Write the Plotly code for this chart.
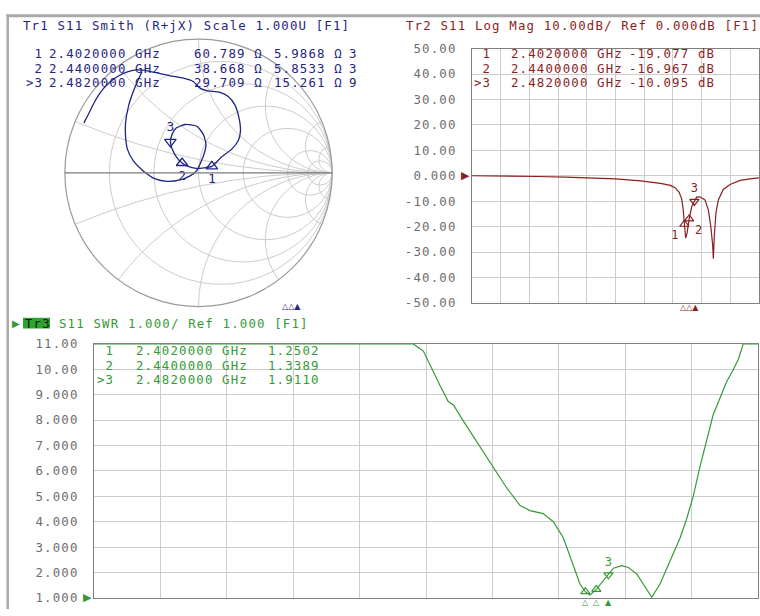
import numpy as np
import plotly.graph_objects as go

W, H = 760, 616

# ---------------- data ----------------
freq_start_ghz = 0.7
freq_stop_ghz = 3.0

logmag_freq_ghz = [0.70, 0.90, 1.10, 1.23, 1.45, 1.65, 1.85, 2.05, 2.21, 2.29,
                   2.33, 2.36, 2.38, 2.392, 2.402, 2.412, 2.424, 2.44, 2.462, 2.482,
                   2.50, 2.527, 2.567, 2.594, 2.613, 2.629, 2.634, 2.642, 2.655, 2.674,
                   2.714, 2.768, 2.848, 2.928, 3.00]
logmag_db = [0.0, -0.05, -0.15, -0.3, -0.5, -0.8, -1.2, -2.0, -3.0, -3.8,
             -4.8, -6.5, -9.0, -13.0, -19.077, -24.5, -22.5, -16.967, -12.0, -10.095,
             -8.4, -8.3, -9.5, -13.4, -19.7, -27.4, -32.6, -23.6, -14.6, -9.5,
             -5.4, -3.4, -1.8, -1.2, -0.8]

swr_freq_ghz = [0.70, 1.806, 1.841, 1.870, 1.898, 1.927, 1.945, 1.979, 2.037, 2.083,
                2.129, 2.176, 2.210, 2.256, 2.291, 2.326, 2.360, 2.383, 2.402, 2.418,
                2.440, 2.482, 2.499, 2.528, 2.551, 2.580, 2.609, 2.632, 2.661, 2.695,
                2.730, 2.753, 2.776, 2.799, 2.822, 2.845, 2.868, 2.891, 2.915, 2.932,
                2.949, 3.00]
swr_val = [11.0, 11.0, 10.72, 10.0, 9.37, 8.73, 8.6, 7.97, 6.94, 6.17,
           5.34, 4.64, 4.44, 4.32, 4.0, 3.36, 2.33, 1.56, 1.2502, 1.12,
           1.3389, 1.911, 2.17, 2.27, 2.2, 1.95, 1.44, 1.03, 1.56, 2.46,
           3.36, 4.12, 5.02, 6.17, 7.2, 8.22, 8.86, 9.5, 10.0, 10.4,
           11.0, 11.0]

smith_gamma_re = [-0.857, -0.819, -0.782, -0.745, -0.708, -0.658, -0.599, -0.532, -0.457, -0.375,
                  -0.286, -0.212, -0.113, -0.039, 0.011, 0.061, 0.160, 0.222, 0.271, 0.303,
                  0.314, 0.296, 0.247, 0.172, 0.100, 0.041, -0.019, -0.078, -0.123, -0.162,
                  -0.197, -0.210, -0.197, -0.167, -0.100, -0.013, 0.036, 0.056, 0.041, 0.011,
                  -0.011, -0.063, -0.138, -0.236, -0.323, -0.413, -0.487, -0.532, -0.546, -0.546,
                  -0.524, -0.487, -0.450, -0.422]
smith_gamma_im = [0.374, 0.448, 0.523, 0.585, 0.634, 0.684, 0.725, 0.755, 0.770, 0.762,
                  0.743, 0.726, 0.709, 0.684, 0.634, 0.615, 0.602, 0.572, 0.511, 0.411,
                  0.312, 0.238, 0.176, 0.119, 0.049, 0.037, 0.033, 0.048, 0.074, 0.114,
                  0.178, 0.232, 0.290, 0.335, 0.362, 0.349, 0.288, 0.213, 0.139, 0.065,
                  0.019, -0.022, -0.052, -0.063, -0.045, 0.015, 0.089, 0.178, 0.275, 0.372,
                  0.498, 0.610, 0.699, 0.758]

marker_ids = ["1", "2", ">3"]
marker_freq_ghz = [2.402, 2.440, 2.482]
marker_freq_text = ["2.4020000 GHz", "2.4400000 GHz", "2.4820000 GHz"]
marker_logmag_db = [-19.077, -16.967, -10.095]
marker_swr = [1.2502, 1.3389, 1.9110]
marker_r_ohm = [60.789, 38.668, 29.709]
marker_x_ohm = [5.9868, 5.8533, 15.261]
marker_clipped_col = ["3", "3", "9"]
z0_ohm = 50.0

logmag_tickvals = [50, 40, 30, 20, 10, 0, -10, -20, -30, -40, -50]
logmag_ticktext = ["50.00", "40.00", "30.00", "20.00", "10.00", "0.000",
                   "-10.00", "-20.00", "-30.00", "-40.00", "-50.00"]
swr_tickvals = [11, 10, 9, 8, 7, 6, 5, 4, 3, 2, 1]
swr_ticktext = ["11.00", "10.00", "9.000", "8.000", "7.000", "6.000",
                "5.000", "4.000", "3.000", "2.000", "1.000"]

smith_r_grid = [0.2, 0.5, 1, 2, 5, 10]
smith_x_grid = [-10, -5, -2, -1, -0.5, -0.2, 0.2, 0.5, 1, 2, 5, 10]

# ---------------- styling ----------------
MONO = "DejaVu Sans Mono"
SYM = "DejaVu Sans"
FS = 12.4          # glyph size of the instrument font
LS = 1.15          # extra letter spacing -> ~8.6 px per character
LINE = 14.5        # row pitch of the marker tables
NAVY = "#1f2583"
RED = "#8b1e1e"
GREEN = "#359a35"
TICKGRAY = "#6e6e6e"
GRID = "#cccccc"
BORDER = "#808080"
NB = "\u00a0"


def px(x):
    return x / W


def py(y):
    return 1 - y / H


def sp(s):
    return f"<span style='font-size:{FS}px;letter-spacing:{LS}px'>{s.replace(' ', NB)}</span>"


fig = go.Figure()

# Smith chart trace
g = np.array(smith_gamma_re) + 1j * np.array(smith_gamma_im)
z = (1 + g) / (1 - g)
fig.add_trace(go.Scattersmith(real=z.real, imag=z.imag, mode="lines",
                              line=dict(color=NAVY, width=1.3, shape="spline", smoothing=0.6),
                              subplot="smith", hoverinfo="skip"))
zr = [r / z0_ohm for r in marker_r_ohm]
zi = [x / z0_ohm for x in marker_x_ohm]
fig.add_trace(go.Scattersmith(real=zr[:2], imag=zi[:2], mode="markers+text",
                              text=["1", "2"], textposition="bottom center",
                              textfont=dict(family=MONO, size=13, color=NAVY),
                              marker=dict(symbol="triangle-up-open", size=10, color=NAVY,
                                          line=dict(width=1.3, color=NAVY)),
                              subplot="smith", hoverinfo="skip"))
fig.add_trace(go.Scattersmith(real=zr[2:], imag=zi[2:], mode="markers+text",
                              text=["3"], textposition="top center",
                              textfont=dict(family=MONO, size=13, color=NAVY),
                              marker=dict(symbol="triangle-down-open", size=10, color=NAVY,
                                          line=dict(width=1.3, color=NAVY)),
                              subplot="smith", hoverinfo="skip"))

# Log mag trace
fig.add_trace(go.Scatter(x=logmag_freq_ghz, y=logmag_db, mode="lines",
                         line=dict(color=RED, width=1.2), xaxis="x", yaxis="y",
                         hoverinfo="skip"))
fig.add_trace(go.Scatter(x=marker_freq_ghz[:2], y=marker_logmag_db[:2], mode="markers+text",
                         text=["1", "2"], textposition=["bottom left", "bottom right"],
                         textfont=dict(family=MONO, size=12, color=RED),
                         marker=dict(symbol="triangle-up-open", size=8, color=RED,
                                     line=dict(width=1.2, color=RED)),
                         xaxis="x", yaxis="y", hoverinfo="skip"))
fig.add_trace(go.Scatter(x=marker_freq_ghz[2:], y=marker_logmag_db[2:], mode="markers+text",
                         text=["3"], textposition="top center",
                         textfont=dict(family=MONO, size=12, color=RED),
                         marker=dict(symbol="triangle-down-open", size=8, color=RED,
                                     line=dict(width=1.2, color=RED)),
                         xaxis="x", yaxis="y", hoverinfo="skip"))

# SWR trace
fig.add_trace(go.Scatter(x=swr_freq_ghz, y=swr_val, mode="lines",
                         line=dict(color=GREEN, width=1.2), xaxis="x2", yaxis="y2",
                         hoverinfo="skip"))
fig.add_trace(go.Scatter(x=marker_freq_ghz[:2], y=marker_swr[:2], mode="markers",
                         marker=dict(symbol="triangle-up-open", size=8, color=GREEN,
                                     line=dict(width=1.2, color=GREEN)),
                         xaxis="x2", yaxis="y2", hoverinfo="skip", cliponaxis=False))
fig.add_trace(go.Scatter(x=marker_freq_ghz[2:], y=marker_swr[2:], mode="markers+text",
                         text=["3"], textposition="top center",
                         textfont=dict(family=MONO, size=12, color=GREEN),
                         marker=dict(symbol="triangle-down-open", size=8, color=GREEN,
                                     line=dict(width=1.2, color=GREEN)),
                         xaxis="x2", yaxis="y2", hoverinfo="skip"))

xcommon = dict(range=[freq_start_ghz, freq_stop_ghz], tick0=freq_start_ghz,
               dtick=(freq_stop_ghz - freq_start_ghz) / 10, showticklabels=False, ticks="",
               showgrid=True, gridcolor=GRID, gridwidth=1, zeroline=False,
               showline=True, mirror=True, linecolor=BORDER, linewidth=1)

fig.update_layout(
    width=W, height=H, margin=dict(l=0, r=0, t=0, b=0), autosize=False,
    paper_bgcolor="white", plot_bgcolor="white", showlegend=False,
    smith=dict(
        domain=dict(x=[px(61.5), px(335.5)], y=[py(306), py(32)]),
        bgcolor="white",
        realaxis=dict(tickvals=smith_r_grid, showticklabels=False, ticks="",
                      showgrid=True, gridcolor=GRID, gridwidth=1,
                      showline=True, linecolor="#7a7a7a", linewidth=1.2),
        imaginaryaxis=dict(tickvals=smith_x_grid, showticklabels=False, ticks="",
                           showgrid=True, gridcolor=GRID, gridwidth=1,
                           showline=True, linecolor="#9a9a9a", linewidth=1.2),
    ),
    xaxis=dict(domain=[px(472), px(759)], anchor="y", **xcommon),
    yaxis=dict(domain=[py(302.2), py(41.7)], anchor="x", range=[-50, 50],
               tickvals=logmag_tickvals, ticktext=[sp(t) for t in logmag_ticktext], ticks="",
               tickfont=dict(family=MONO, size=FS, color=TICKGRAY), ticklabelstandoff=12,
               showgrid=True, gridcolor=GRID, zeroline=False,
               showline=True, mirror=True, linecolor=BORDER, linewidth=1),
    xaxis2=dict(domain=[px(94), px(758)], anchor="y2", **xcommon),
    yaxis2=dict(domain=[py(604.7), py(344.3)], anchor="x2", range=[1, 11],
                tickvals=swr_tickvals, ticktext=[sp(t) for t in swr_ticktext], ticks="",
                tickfont=dict(family=MONO, size=FS, color=TICKGRAY), ticklabelstandoff=12,
                showgrid=True, gridcolor=GRID, zeroline=False,
                showline=True, mirror=True, linecolor=BORDER, linewidth=1),
)

ann = []


def txt(x, y, s, color, anchor="left"):
    return dict(x=px(x), y=py(y), xref="paper", yref="paper", text=sp(s), showarrow=False,
                xanchor=anchor, yanchor="middle", borderpad=0,
                font=dict(family=MONO, size=FS, color=color))


def sym(x, y, s, color, size, anchor="center"):
    return dict(x=px(x), y=py(y), xref="paper", yref="paper", text=s, showarrow=False,
                xanchor=anchor, yanchor="middle", borderpad=0,
                font=dict(family=SYM, size=size, color=color))


def column(x, y_mid, cells, color, anchor="left"):
    # one text block per table column, rows LINE px apart
    body = "<br>".join(sp(c) for c in cells)
    return dict(x=px(x), y=py(y_mid), xref="paper", yref="paper", text=body, showarrow=False,
                xanchor=anchor, yanchor="middle", align=anchor, borderpad=0,
                font=dict(family=MONO, size=LINE / 1.3, color=color))


# headers
ann.append(txt(22, 18, "Tr1 S11 Smith (R+jX) Scale 1.000U [F1]", NAVY))
ann.append(txt(405, 18, "Tr2 S11 Log Mag 10.00dB/ Ref 0.000dB [F1]", RED))
ann.append(sym(21, 323, "▶", GREEN, 10, anchor="right"))
ann.append(txt(23.5, 323, "Tr3", "#0c1a0c"))
ann.append(txt(58, 323, "S11 SWR 1.000/ Ref 1.000 [F1]", GREEN))

# marker tables (Smith, log mag, SWR)
ann.append(column(44, 61.5, marker_ids, NAVY, anchor="right"))
ann.append(column(48, 61.5, marker_freq_text, NAVY))
ann.append(column(193, 61.5, [f"{v:.3f} Ω" for v in marker_r_ohm], NAVY))
ann.append(column(273, 61.5, [f"{v:.5g} Ω" for v in marker_x_ohm], NAVY))
ann.append(column(348, 61.5, marker_clipped_col, NAVY))

ann.append(column(492, 61.5, marker_ids, RED, anchor="right"))
ann.append(column(510, 61.5, marker_freq_text, RED))
ann.append(column(628, 61.5, [f"{v:.3f} dB" for v in marker_logmag_db], RED))

ann.append(column(115, 366, marker_ids, GREEN, anchor="right"))
ann.append(column(135, 366, marker_freq_text, GREEN))
ann.append(column(267, 366, [f"{v:.4f}" for v in marker_swr], GREEN))

# reference level arrows
ann.append(dict(xref="x domain", x=0, yref="y", y=0, text="▶", showarrow=False,
                xanchor="right", yanchor="middle", xshift=-1, borderpad=0,
                font=dict(family=SYM, size=11, color=RED)))
ann.append(dict(xref="x2 domain", x=0, yref="y2", y=1, text="▶", showarrow=False,
                xanchor="right", yanchor="middle", xshift=-1, borderpad=0,
                font=dict(family=SYM, size=11, color=GREEN)))

# marker position indicators under the plots
ann.append(dict(xref="x", x=marker_freq_ghz[1], yref="y domain", y=0, text="△△▲",
                showarrow=False, xanchor="center", yanchor="top", yshift=1, borderpad=0,
                font=dict(family=SYM, size=8, color=RED)))
for i in range(3):
    s = "▲" if i == 2 else "△"
    ann.append(dict(xref="x2", x=marker_freq_ghz[i], yref="y2 domain", y=0, text=s,
                    showarrow=False, xanchor="center", yanchor="top", yshift=1, borderpad=0,
                    font=dict(family=SYM, size=8, color=GREEN)))
ann.append(sym(291, 306, "△△▲", NAVY, 8))

fig.update_layout(annotations=ann)

# frame of the instrument window + Tr3 tag
fig.update_layout(shapes=[
    dict(type="rect", xref="paper", yref="paper", x0=px(6.5), x1=1, y0=py(9.5), y1=py(6.5),
         fillcolor="#a9a9a9", line=dict(width=0), layer="above"),
    dict(type="rect", xref="paper", yref="paper", x0=px(6.5), x1=px(9), y0=0, y1=py(6.5),
         fillcolor="#a9a9a9", line=dict(width=0), layer="above"),
    dict(type="rect", xref="paper", yref="paper", x0=px(23), x1=px(50), y0=py(328.5), y1=py(317.5),
         fillcolor="#2fa32f", line=dict(width=0), layer="above"),
])

# pin the graph to the top-left corner of the page (no default body margin)
pin = ("document.body.style.margin='0';document.body.style.overflow='hidden';"
       "var gd=document.getElementById('{plot_id}');gd.style.position='fixed';"
       "gd.style.left='0px';gd.style.top='0px';")

fig.write_html("out.html", config={"responsive": False, "displayModeBar": False},
               post_script=pin)
